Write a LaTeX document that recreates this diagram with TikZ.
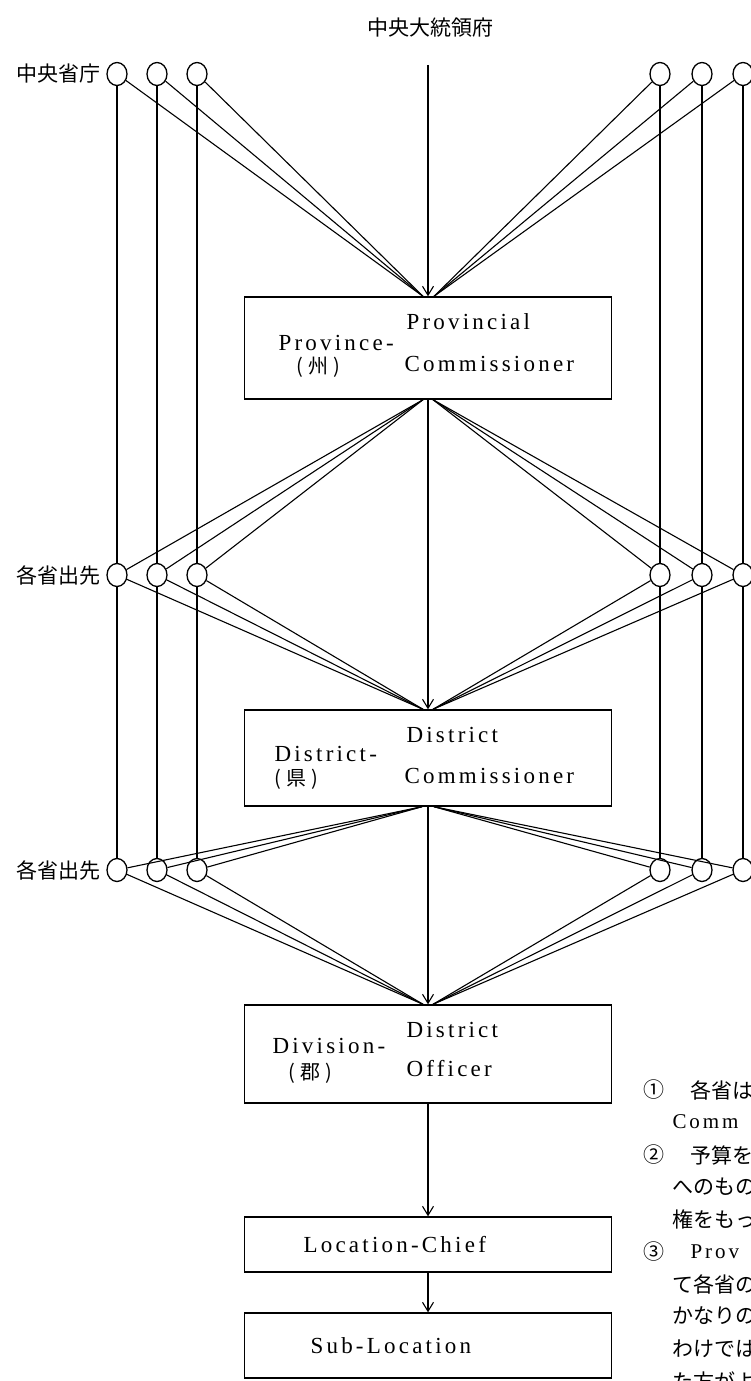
\documentclass[tikz,border=0pt]{standalone}
\usepackage{fontspec}
\setmainfont{Liberation Serif}
\newfontfamily\jp{Noto Sans CJK JP}
\newfontfamily\lsfont[LetterSpace=14]{Liberation Serif}
\usetikzlibrary{arrows.meta,shapes.geometric}
\begin{document}
\begin{tikzpicture}[x=1pt,y=-1pt, line width=1.1pt,
  circ/.style={draw, ellipse, minimum width=20pt, minimum height=23pt, inner sep=0pt, line width=1.3pt},
  box/.style={draw, rectangle, line width=1.4pt, inner sep=0pt, minimum width=367pt},
  arr/.style={-{Straight Barb[length=9pt,width=11pt]}},
  jpl/.style={font=\jp\fontsize{21}{21}\selectfont, inner sep=0pt},
  jps/.style={font=\jp\fontsize{20}{20}\selectfont, inner sep=0pt, anchor=west},
  en/.style={font=\lsfont\fontsize{23}{23}\selectfont, inner sep=0pt, anchor=west},
  ens/.style={font=\lsfont\fontsize{21}{21}\selectfont, inner sep=0pt, anchor=west},
  note/.style={font=\jp\fontsize{21}{21}\selectfont, inner sep=0pt, anchor=west}]
\useasboundingbox (0,0) rectangle (750,1381);
\fill[white] (0,0) rectangle (750,1381);

% title
\node[jpl] (title) at (430,28) {中央大統領府};
\coordinate (top) at (428,65);

% boxes
\node[box, minimum height=102pt] (b1) at (428,348) {};
\node[box, minimum height=96pt] (b2) at (428,758) {};
\node[box, minimum height=98pt] (b3) at (428,1054) {};
\node[box, minimum height=55pt] (b4) at (428,1244.5) {};
\node[box, minimum height=65pt] (b5) at (428,1345.5) {};

% box texts
\node[en] (p1) at (406,322) {Provincial};
\node[en] (p2) at (278,343) {Province-};
\node[jps] (p3) at (296,367) {(\hspace{5pt}州\hspace{5pt})};
\node[en] (p4) at (404,364) {Commissioner};

\node[en] (d1) at (406,735) {District};
\node[en] (d2) at (274,754) {District-};
\node[jps] (d3) at (274,779) {(\hspace{5pt}県\hspace{5pt})};
\node[en] (d4) at (404,776) {Commissioner};

\node[en] (v1) at (406,1030) {District};
\node[en] (v2) at (272,1046) {Division-};
\node[jps] (v3) at (288,1073) {(\hspace{5pt}郡\hspace{5pt})};
\node[en] (v4) at (406,1069) {Officer};

\node[en] (l1) at (303,1244.5) {Location-Chief};
\node[en] (s1) at (310,1345.5) {Sub-Location};

% side labels
\node[jpl, anchor=east] (k1) at (101,74) {中央省庁};
\node[jpl, anchor=east] (k2) at (101,575) {各省出先};
\node[jpl, anchor=east] (k3) at (101,870) {各省出先};

% circles
\foreach \r/\y in {1/74,2/575,3/870}{
  \node[circ] (A\r) at (117,\y) {};
  \node[circ] (B\r) at (157,\y) {};
  \node[circ] (C\r) at (197,\y) {};
  \node[circ] (D\r) at (660,\y) {};
  \node[circ] (E\r) at (702,\y) {};
  \node[circ] (F\r) at (743,\y) {};
}

% convergence points
\coordinate (n1l) at ([xshift=-5pt]b1.north);
\coordinate (n1r) at ([xshift=6pt]b1.north);
\coordinate (s1l) at ([xshift=-5pt]b1.south);
\coordinate (s1r) at ([xshift=5pt]b1.south);
\coordinate (n2l) at ([xshift=-5pt]b2.north);
\coordinate (n2r) at ([xshift=5pt]b2.north);
\coordinate (s2l) at ([xshift=-6pt]b2.south);
\coordinate (s2r) at ([xshift=6pt]b2.south);
\coordinate (n3l) at ([xshift=-5pt]b3.north);
\coordinate (n3r) at ([xshift=5pt]b3.north);

% vertical lines between rows
\foreach \c in {A,B,C,D,E,F}{
  \draw (\c1) -- (\c2);
  \draw (\c2) -- (\c3);
}
% to box tops / from box bottoms
\foreach \c in {A,B,C}{
  \draw (\c1) -- (n1l);
  \draw (s1l) -- (\c2);
  \draw (\c2) -- (n2l);
  \draw (s2l) -- (\c3);
  \draw (\c3) -- (n3l);
}
\foreach \c in {D,E,F}{
  \draw (\c1) -- (n1r);
  \draw (s1r) -- (\c2);
  \draw (\c2) -- (n2r);
  \draw (s2r) -- (\c3);
  \draw (\c3) -- (n3r);
}

% central arrows
\draw[arr] (top) -- (b1.north);
\draw[arr] (b1.south) -- (b2.north);
\draw[arr] (b2.south) -- (b3.north);
\draw[arr] (b3.south) -- (b4.north);
\draw[arr] (b4.south) -- (b5.north);

% notes (cut at the right edge, as in the reference)
\node[note] (r1a) at (643,1090) {①};
\node[note] (r1b) at (690,1090) {各省は};
\node[ens] (r2) at (672,1122) {Comm};
\node[note] (r3a) at (643,1155) {②};
\node[note] (r3b) at (690,1155) {予算を};
\node[note] (r4) at (672,1187) {へのもの};
\node[note] (r5) at (672,1219) {権をもっ};
\node[note] (r6a) at (643,1252) {③};
\node[ens] (r6b) at (690,1252) {Prov};
\node[note] (r7) at (672,1284) {て各省の};
\node[note] (r8) at (672,1316) {かなりの};
\node[note] (r9) at (672,1349) {わけでは};
\node[note] (r10) at (672,1381) {た方がよ};
\end{tikzpicture}
\end{document}
